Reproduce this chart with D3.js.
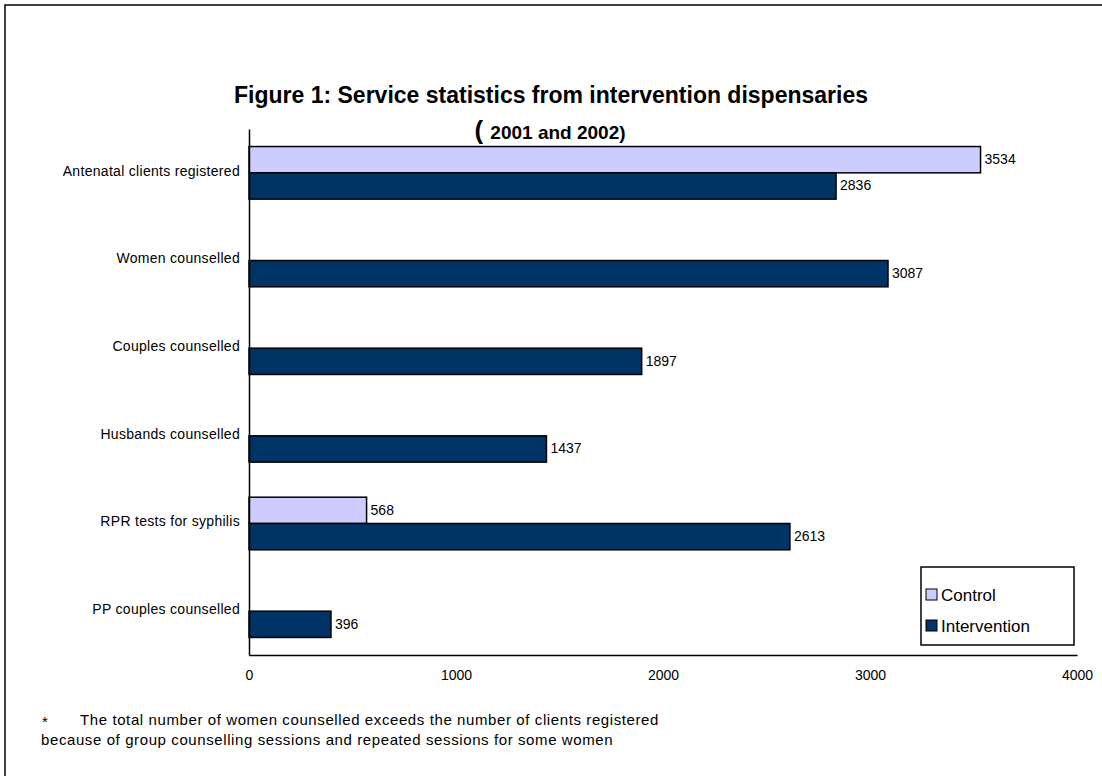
<!DOCTYPE html>
<html>
<head>
<meta charset="utf-8">
<script src="https://cdn.jsdelivr.net/npm/d3@7"></script>
<style>
  body { margin: 0; background: #fff; }
  text { font-family: "Liberation Sans", Arial, sans-serif; fill: #000; }
</style>
</head>
<body>
<div id="chart"></div>
<script>
// data
var categories = ["Antenatal clients registered", "Women counselled", "Couples counselled",
                  "Husbands counselled", "RPR tests for syphilis", "PP couples counselled"];
var seriesNames = ["Control", "Intervention"];
var controlValues = [3534, null, null, null, 568, null];
var interventionValues = [2836, 3087, 1897, 1437, 2613, 396];
var xTicks = [0, 1000, 2000, 3000, 4000];
var colors = ["#CCCCFF", "#003366"];

var svgWidth = 1102, svgHeight = 776;
var margin = { top: 129, left: 249, right: 25, bottom: 121 };
var width = svgWidth - margin.left - margin.right;
var height = svgHeight - margin.top - margin.bottom;

var svg = d3.select("#chart").append("svg")
    .attr("width", svgWidth)
    .attr("height", svgHeight);

// outer frame (right and bottom edges fall off the page)
svg.append("rect")
    .attr("x", 5).attr("y", 5)
    .attr("width", 1200).attr("height", 900)
    .attr("fill", "none")
    .attr("stroke", "#000")
    .attr("stroke-width", 1.5);

// titles
svg.append("text")
    .attr("x", 551).attr("y", 103)
    .attr("text-anchor", "middle")
    .attr("font-size", "23px")
    .attr("font-weight", "bold")
    .text("Figure 1: Service statistics from intervention dispensaries");

var sub = svg.append("text")
    .attr("x", 550).attr("y", 139)
    .attr("text-anchor", "middle")
    .attr("font-weight", "bold");
sub.append("tspan").attr("font-size", "26px").text("( ");
sub.append("tspan").attr("font-size", "19px").text("2001 and 2002)");

var chartGroup = svg.append("g")
    .attr("transform", `translate(${margin.left}, ${margin.top})`);

var xScale = d3.scaleLinear().domain([0, 4000]).range([0, width]);
var yScale = d3.scaleBand().domain(categories).range([0, height])
    .paddingInner(0.4).paddingOuter(0.2);
var subScale = d3.scaleBand().domain(seriesNames).range([0, yScale.bandwidth()]);

var rows = categories.map(function (c, i) {
    return { cat: c, values: [
        { key: "Control", value: controlValues[i] },
        { key: "Intervention", value: interventionValues[i] }
    ].filter(function (d) { return d.value != null; }) };
});

var groups = chartGroup.selectAll(".cat")
    .data(rows)
    .enter()
    .append("g")
    .attr("transform", d => `translate(0, ${yScale(d.cat)})`);

groups.selectAll("rect")
    .data(d => d.values)
    .enter()
    .append("rect")
    .attr("x", 0)
    .attr("y", d => subScale(d.key))
    .attr("width", d => xScale(d.value))
    .attr("height", subScale.bandwidth())
    .attr("fill", d => colors[seriesNames.indexOf(d.key)])
    .attr("stroke", "#000")
    .attr("stroke-width", 1.5);

groups.selectAll(".val")
    .data(d => d.values)
    .enter()
    .append("text")
    .attr("x", d => xScale(d.value) + 4)
    .attr("y", d => subScale(d.key) + subScale.bandwidth() / 2)
    .attr("dy", "0.3em")
    .attr("font-size", "14px")
    .text(d => d.value);

// category labels
var yAxis = d3.axisLeft(yScale).tickSize(0).tickPadding(9);
var yG = chartGroup.append("g").call(yAxis);
yG.selectAll("text")
    .attr("font-size", "14px")
    .attr("font-family", "Liberation Sans, Arial, sans-serif")
    .attr("letter-spacing", "0.3px")
    .attr("dy", "0.2em");
yG.select(".domain").attr("stroke", "#000").attr("stroke-width", 1.5);

// x axis
var xAxis = d3.axisBottom(xScale).tickValues(xTicks).tickSize(0).tickPadding(15)
    .tickFormat(d3.format("d"));
var xG = chartGroup.append("g")
    .attr("transform", `translate(0, ${height})`)
    .call(xAxis);
xG.selectAll("text")
    .attr("font-size", "14px")
    .attr("font-family", "Liberation Sans, Arial, sans-serif");
xG.select(".domain").attr("stroke", "#000").attr("stroke-width", 1.5);

// legend
var legend = svg.append("g").attr("transform", "translate(921, 567)");
legend.append("rect")
    .attr("width", 153).attr("height", 78)
    .attr("fill", "#fff")
    .attr("stroke", "#000")
    .attr("stroke-width", 1.5);
seriesNames.forEach(function (name, i) {
    legend.append("rect")
        .attr("x", 5).attr("y", 22 + i * 31)
        .attr("width", 11).attr("height", 11)
        .attr("fill", colors[i])
        .attr("stroke", "#000")
        .attr("stroke-width", 1);
    legend.append("text")
        .attr("x", 20).attr("y", 28 + i * 31)
        .attr("dy", "0.35em")
        .attr("font-size", "17px")
        .text(name);
});

// footnote
var note = svg.append("g")
    .attr("font-size", "15px")
    .attr("letter-spacing", "0.6px");
note.append("text")
    .attr("x", 42).attr("y", 727)
    .text("*");
note.append("text")
    .attr("x", 80).attr("y", 725)
    .text("The total number of women counselled exceeds the  number of clients registered");
note.append("text")
    .attr("x", 41).attr("y", 745)
    .text("because of group counselling sessions and repeated sessions for  some women");
</script>
</body>
</html>
